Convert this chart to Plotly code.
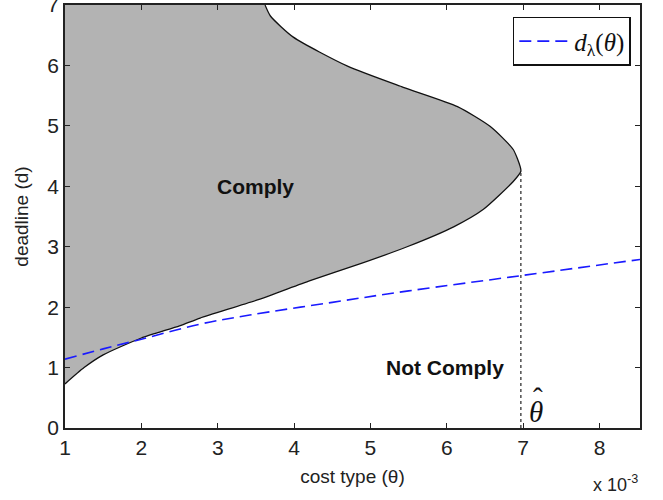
import plotly.graph_objects as go

# Boundary of the "Comply" region (lower branch -> tip -> upper branch)
theta_boundary = [1.0, 1.25, 1.5, 2.0, 2.5, 2.77, 3.52, 4.21, 4.87, 5.48, 6.09, 6.48, 6.87, 6.97,
                  6.96, 6.87, 6.57, 6.14, 5.43, 4.70, 3.99, 3.69, 3.62]
d_boundary = [0.73, 1.0, 1.21, 1.49, 1.69, 1.82, 2.12, 2.44, 2.72, 3.0, 3.33, 3.62, 4.08, 4.25,
              4.33, 4.61, 4.99, 5.32, 5.64, 5.99, 6.47, 6.82, 7.0]

# d_lambda(theta) dashed curve
theta_dl = [1.0, 1.5, 2.0, 2.77, 3.42, 4.5, 5.5, 6.96, 8.53]
d_dl = [1.14, 1.31, 1.47, 1.72, 1.87, 2.08, 2.27, 2.52, 2.79]

theta_hat = 6.97
d_hat = 4.25

x_range = [1, 8.53]
y_range = [0, 7.002]
x_ticks = [1, 2, 3, 4, 5, 6, 7, 8]
y_ticks = [0, 1, 2, 3, 4, 5, 6, 7]

FONT = "Liberation Sans, Arial"
fig = go.Figure()

# filled comply region (x as function of d, filled toward the left axis)
fig.add_trace(go.Scatter(x=theta_boundary, y=d_boundary, fill="tozerox", fillcolor="#b3b3b3",
                         mode="lines", line=dict(color="#111111", width=1.3, shape="spline", smoothing=0.6),
                         showlegend=False, hoverinfo="skip"))
# dotted vertical at theta hat
fig.add_trace(go.Scatter(x=[theta_hat, theta_hat], y=[0, d_hat], mode="lines",
                         line=dict(color="#222222", width=1.2, dash="dot"), showlegend=False))
# dashed d_lambda
fig.add_trace(go.Scatter(x=theta_dl, y=d_dl, mode="lines",
                         line=dict(color="#1a1aff", width=1.6, dash="12px,6px", shape="spline"),
                         name="<i>d</i><sub>λ</sub>(<i>θ</i>)", showlegend=True))

axis_common = dict(showgrid=False, zeroline=False, showline=True, linecolor="#222222",
                   linewidth=1.5, mirror="ticks", ticks="inside", ticklen=5,
                   tickcolor="#222222", tickwidth=1.2, ticklabeloverflow="allow",
                   automargin=False,
                   tickfont=dict(family=FONT, size=21, color="#222222"))

fig.update_xaxes(range=x_range, tickvals=x_ticks, ticktext=[str(t) for t in x_ticks],
                 title=dict(text="cost type (θ)", font=dict(family=FONT, size=19, color="#222222"),
                            standoff=12),
                 **axis_common)
fig.update_yaxes(range=y_range, tickvals=y_ticks, ticktext=[str(t) for t in y_ticks],
                 title=dict(text="deadline (d)", font=dict(family=FONT, size=19, color="#222222"),
                            standoff=14),
                 **axis_common)

fig.add_annotation(x=3.49, y=4.0, text="<b>Comply</b>", showarrow=False,
                   font=dict(family=FONT, size=21, color="#111111"))
fig.add_annotation(x=5.98, y=1.0, text="<b>Not Comply</b>", showarrow=False,
                   font=dict(family=FONT, size=21, color="#111111"))
fig.add_annotation(x=7.17, y=0.26, text="<i>θ</i>", showarrow=False,
                   font=dict(family="Liberation Serif, Times New Roman", size=29, color="#111111"))
fig.add_annotation(x=7.2, y=0.5, text="ˆ", showarrow=False,
                   font=dict(family="Liberation Serif, Times New Roman", size=29, color="#111111"))
fig.add_annotation(xref="paper", yref="paper", x=1.0, y=-0.1, xanchor="right", yanchor="top",
                   text="x 10<sup>-3</sup>", showarrow=False,
                   font=dict(family=FONT, size=18, color="#222222"))

fig.update_layout(
    width=663, height=500,
    margin=dict(l=65, r=23, t=5, b=72),
    plot_bgcolor="white", paper_bgcolor="white",
    legend=dict(x=0.984, y=0.972, xanchor="right", yanchor="top",
                bgcolor="white", bordercolor="#111111", borderwidth=1.5,
                font=dict(family="Liberation Serif, Times New Roman", size=25, color="#111111"),
                itemwidth=50),
)

fig.write_html("out.html")
